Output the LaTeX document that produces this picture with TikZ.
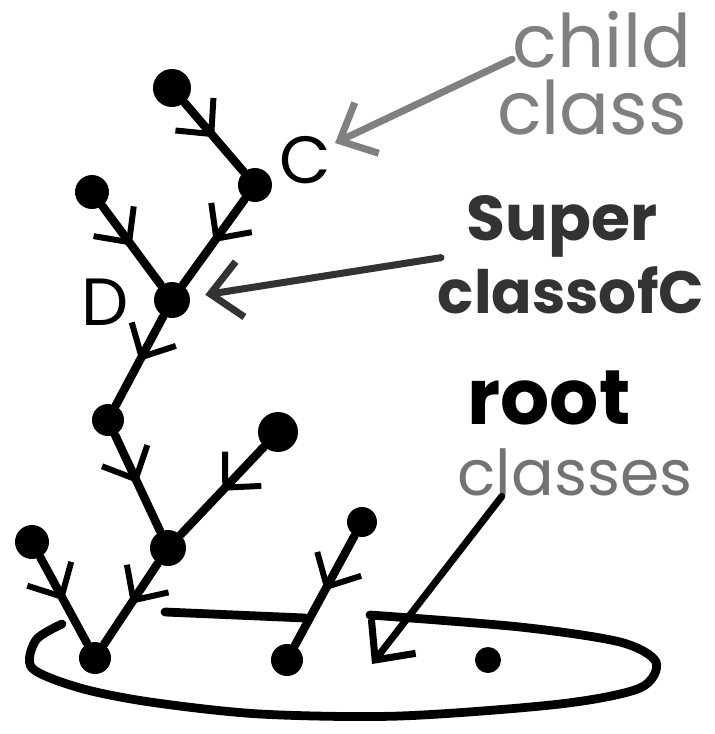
\documentclass[tikz,border=0pt]{standalone}
\usepackage{fontspec}
\setmainfont{Poppins}
\usetikzlibrary{arrows.meta,decorations.markings}

\tikzset{
  cls/.style={circle,fill=black,inner sep=0pt,minimum size=#1},
  cls/.default=3.4mm,
  inherit/.style={line width=2.4pt,line cap=round,postaction={decorate},
    decoration={markings,mark=at position 0.5 with
      {\arrow[line width=1.7pt]{Straight Barb[length=2.6mm,width=5mm]}}}},
  note/.style={font=\fontsize{#1}{#1}\selectfont,inner sep=0pt},
  note/.default=20,
  letter/.style={font=\fontsize{19}{20}\selectfont,inner sep=0pt},
  pointer/.style={line width=2pt,line cap=round,
    -{Straight Barb[length=3mm,width=5.6mm,line width=2pt]}},
}

\begin{document}
\begin{tikzpicture}[x=0.1mm,y=-0.1mm]
  \useasboundingbox (0,0) rectangle (715,734);

  % classes
  \node[cls=3.8mm] (top) at (172,88) {};
  \node[cls=3.4mm] (C) at (255,185) {};
  \node[cls=3.4mm] (E) at (92,192) {};
  \node[cls=3.6mm] (D) at (172,300) {};
  \node[cls=3.2mm] (F) at (108,420) {};
  \node[cls=4.0mm] (H) at (278,432) {};
  \node[cls=3.6mm] (G) at (168,548) {};
  \node[cls=3.4mm] (I) at (32,542) {};
  \node[cls=3.0mm] (J) at (362,522) {};
  \node[cls=3.2mm] (R1) at (95,658) {};
  \node[cls=3.2mm] (R2) at (287,660) {};
  \node[cls=2.6mm] (R3) at (488,660) {};

  % subclass -> superclass
  \draw[inherit] (top) -- (C);
  \draw[inherit] (C) -- (D);
  \draw[inherit] (E) -- (D);
  \draw[inherit] (D) -- (F);
  \draw[inherit] (F) -- (G);
  \draw[inherit] (H) -- (G);
  \draw[inherit] (G) -- (R1);
  \draw[inherit] (I) -- (R1);
  \draw[inherit] (J) -- (R2);

  \node[letter] (lblC) at (305,160) {C};
  \node[letter] (lblD) at (105,302) {D};

  % loop round the roots
  \draw[line width=2.5pt,line cap=round] plot[smooth] coordinates
    {(62,624) (36,640) (32,668) (80,688) (150,702) (260,714) (400,716)
     (560,704) (640,688) (656,662) (620,642) (520,627) (370,615)};
  \draw[line width=2.5pt,line cap=round] (165,612) -- (305,618);

  % notes
  \node[note=21,text=black!50] (child) at (602,40) {child};
  \node[note=21,text=black!50] (childcls) at (592,108) {class};
  \node[note=18,text=black!80] (super) at (562,226) {\bfseries Super};
  \node[note=17,text=black!80] (superof) at (571,290) {\bfseries classofC};
  \node[note=22] (root) at (549,398) {\bfseries root};
  \node[note=18,text=black!55] (rootcls) at (575,472) {classes};

  \coordinate (cTip) at (335,143);
  \coordinate (rTip) at (372,664);
  \draw[pointer,black!50] ([yshift=1mm]child.south west) -- (cTip);
  \draw[pointer,black!80,shorten >=1.5mm] ([xshift=-2.5mm]super.south west) -- (D);
  \draw[pointer] ([xshift=4.5mm]rootcls.south west) -- (rTip);
\end{tikzpicture}
\end{document}
